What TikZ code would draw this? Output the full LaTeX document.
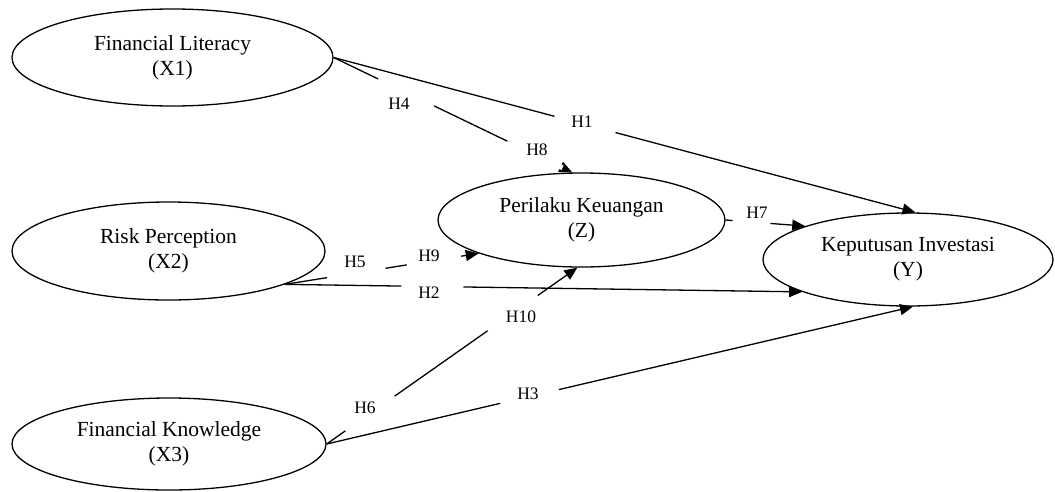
\documentclass[tikz,border=0pt]{standalone}
\usepackage{fontspec}
\setmainfont{Liberation Serif}
\usetikzlibrary{shapes.geometric,arrows.meta}
\begin{document}
\begin{tikzpicture}[x=1pt,y=-1pt,
  latent/.style={ellipse, draw, line width=1.3pt, inner sep=0pt, align=center,
     font=\fontsize{21.5}{25}\selectfont},
  conn/.style={line width=1.3pt, -{Triangle[length=13pt,width=11pt]}},
  gapnode/.style={fill=white, inner sep=0pt, minimum height=5pt, sloped},
  hlab/.style={font=\fontsize{17.5}{20}\selectfont, inner sep=0pt}
]
\useasboundingbox (0,0) rectangle (1055,491);

% latent variables
\node[latent, minimum width=321pt, minimum height=97pt] (X1) at (172.5,57.5) {Financial Literacy\\(X1)};
\node[latent, minimum width=313pt, minimum height=98pt] (X2) at (168.5,251) {Risk Perception\\(X2)};
\node[latent, minimum width=314pt, minimum height=92pt] (X3) at (169,444) {Financial Knowledge\\(X3)};
\node[latent, minimum width=287pt, minimum height=94pt] (Z) at (581.5,220) {Perilaku Keuangan\\(Z)};
\node[latent, minimum width=290pt, minimum height=93pt] (Y) at (908,259.5) {Keputusan Investasi\\(Y)};

% connectors (gaps where the labels interrupt them)
\draw[conn] (X1.east) -- node[gapnode, pos=.432, minimum width=63pt] (g1) {} (Y.81);
\draw[conn] (X1.east) -- node[gapnode, pos=.304, minimum width=62pt] (g4) {}
                         node[gapnode, pos=.844, minimum width=61pt] (g8) {} (Z.101);
\draw[conn] (X2.-16.5) -- node[gapnode, pos=.285, minimum width=62pt] (g2) {} (Y.197);
\draw[conn] (X2.-16.5) -- node[gapnode, pos=.369, minimum width=59pt] (g5) {}
                          node[gapnode, pos=.769, minimum width=55pt] (g9) {} (Z.198);
\draw[conn] (Z.east) -- node[gapnode, pos=.325, minimum width=38pt] (g7) {} (Y.162);
\draw[conn] (X3.east) -- node[gapnode, pos=.173, minimum width=60pt] (g6) {}
                         node[gapnode, pos=.742, minimum width=61pt] (g10) {} (Z.265);
\draw[conn] (X3.east) -- node[gapnode, pos=.346, minimum width=60pt] (g3) {} (Y.276);

% hypothesis labels
\node[hlab] (h1) at (582,122) {H1};
\node[hlab] (h2) at (429,293) {H2};
\node[hlab] (h3) at (528,394) {H3};
\node[hlab] (h4) at (399,104) {H4};
\node[hlab] (h5) at (355,262) {H5};
\node[hlab] (h6) at (365,408) {H6};
\node[hlab] (h7) at (757,213) {H7};
\node[hlab] (h8) at (537,150) {H8};
\node[hlab] (h9) at (429,256) {H9};
\node[hlab] (h10) at (521,317) {H10};
\end{tikzpicture}
\end{document}
